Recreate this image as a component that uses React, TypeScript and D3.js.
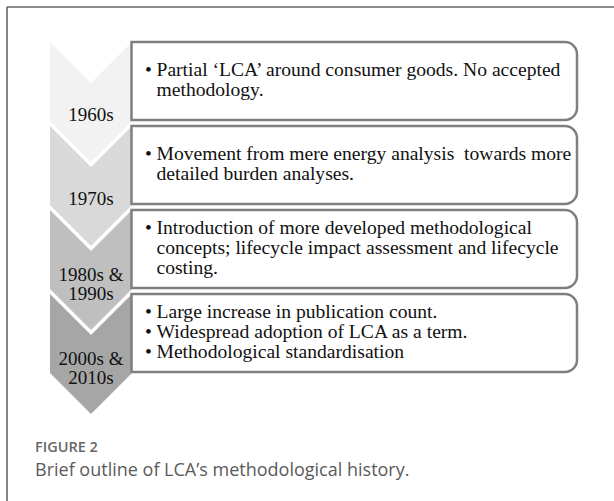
import React from "react";
import * as d3 from "d3";

const periods = ["1960s", "1970s", "1980s & 1990s", "2000s & 2010s"];
const periodLines = [["1960s"], ["1970s"], ["1980s &", "1990s"], ["2000s &", "2010s"]];
const shades = ["#f2f2f2", "#d9d9d9", "#bfbfbf", "#a6a6a6"];
const descriptions = [
  [{ b: true, t: "Partial \u2018LCA\u2019 around consumer goods. No accepted" }, { b: false, t: "methodology." }],
  [{ b: true, t: "Movement from mere energy analysis\u00a0 towards more" }, { b: false, t: "detailed burden analyses." }],
  [
    { b: true, t: "Introduction of more developed methodological" },
    { b: false, t: "concepts; lifecycle impact assessment and lifecycle" },
    { b: false, t: "costing." },
  ],
  [
    { b: true, t: "Large increase in publication count." },
    { b: true, t: "Widespread adoption of LCA as a term." },
    { b: true, t: "Methodological standardisation" },
  ],
];
const figureLabel = "FIGURE 2";
const caption = "Brief outline of LCA\u2019s methodological history.";

const W = 614;
const H = 501;

export default function App() {
  const y = d3.scaleBand<string>().domain(periods).range([42, 372]).paddingInner(6 / 84).paddingOuter(0);
  const bw = y.bandwidth();
  const cx0 = 50, cx1 = 132, cxm = 91, depth = 41;
  const bx0 = 131.5, bx1 = 577, r = 12;
  const serif = "'Liberation Serif', 'Times New Roman', serif";
  const sans = "'Open Sans', 'Noto Sans', sans-serif";

  const chevron = (y0: number) => {
    const p = d3.path();
    const h = bw + 1;
    p.moveTo(cx0, y0);
    p.lineTo(cxm, y0 + depth);
    p.lineTo(cx1, y0);
    p.lineTo(cx1, y0 + h);
    p.lineTo(cxm, y0 + h + depth);
    p.lineTo(cx0, y0 + h);
    p.closePath();
    return p.toString();
  };

  const box = (y0: number) => {
    const p = d3.path();
    const y1 = y0 + bw;
    p.moveTo(bx0, y0);
    p.lineTo(bx1 - r, y0);
    p.arcTo(bx1, y0, bx1, y0 + r, r);
    p.lineTo(bx1, y1 - r);
    p.arcTo(bx1, y1, bx1 - r, y1, r);
    p.lineTo(bx0, y1);
    p.closePath();
    return p.toString();
  };

  return (
    <div style={{ position: "fixed", left: 0, top: 0 }}>
      <svg width={W} height={H} style={{ display: "block", background: "#fff" }}>
        <rect x={0} y={0} width={W} height={H} fill="#fff" />
        <line x1={7} y1={7} x2={W} y2={7} stroke="#666" strokeWidth={1.6} />
        <line x1={7} y1={7} x2={7} y2={H} stroke="#666" strokeWidth={1.6} />
        {periods.map((p, i) => (
          <path key={"c" + p} d={chevron(y(p)!)} fill={shades[i]} />
        ))}
        {periods.map((p) => (
          <path key={"b" + p} d={box(y(p)!)} fill="#fff" stroke="#7f7f7f" strokeWidth={2.5} />
        ))}
        {periods.map((p, i) => {
          const y0 = y(p)!;
          const lines = descriptions[i];
          const first = y0 + bw / 2 - (lines.length - 1) * 10 + 5;
          return (
            <g key={"t" + p} fontFamily={serif} fontSize={19.6} fill="#111">
              {lines.map((l, j) => (
                <g key={j}>
                  {l.b && (
                    <text x={145} y={first + j * 20}>
                      {"\u2022"}
                    </text>
                  )}
                  <text x={156.5} y={first + j * 20}>
                    {l.t}
                  </text>
                </g>
              ))}
            </g>
          );
        })}
        {periods.map((p, i) => {
          const y0 = y(p)!;
          const lines = periodLines[i];
          const base = lines.length === 1 ? y0 + 79 : y0 + 71;
          return (
            <g key={"l" + p} fontFamily={serif} fontSize={19} fill="#111" textAnchor="middle">
              {lines.map((l, j) => (
                <text key={j} x={cxm} y={base + j * 18.5}>
                  {l}
                </text>
              ))}
            </g>
          );
        })}
        <text x={35} y={452} fontFamily={sans} fontSize={14.5} fontWeight={600} fill="#666">
          {figureLabel}
        </text>
        <text x={35} y={476} fontFamily={sans} fontSize={18} fill="#5a5a5a">
          {caption}
        </text>
      </svg>
    </div>
  );
}
